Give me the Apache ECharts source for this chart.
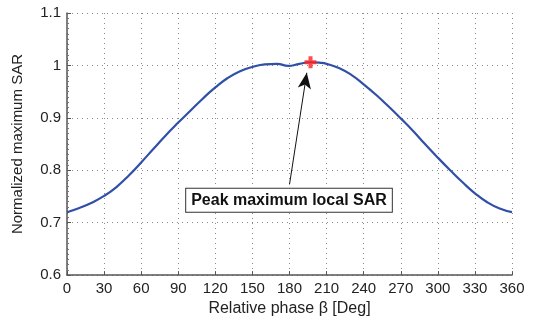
<!DOCTYPE html>
<html>
<head>
<meta charset="utf-8">
<script src="https://cdn.jsdelivr.net/npm/echarts@6/dist/echarts.min.js"></script>
<style>
  html, body { margin: 0; padding: 0; background: #fff; }
  #chart { width: 533px; height: 322px; }
</style>
</head>
<body>
<div id="chart"></div>
<script>
// relative phase (deg) and normalized max SAR
const phase = [0, 10, 20, 30, 40, 50, 60, 70, 80, 90, 100, 110, 120, 130, 140, 150, 160, 170, 179,
  188, 197, 205, 210, 220, 230, 240, 250, 260, 270, 280, 290, 300, 310, 320, 330, 340, 350, 360]
const sar = [0.720, 0.728, 0.738, 0.751, 0.768, 0.790, 0.815, 0.841, 0.867, 0.891, 0.914, 0.937, 0.958,
  0.976, 0.989, 0.997, 1.002, 1.003, 0.999, 1.003, 1.006, 1.005, 1.003, 0.995, 0.982, 0.964, 0.944, 0.922,
  0.899, 0.875, 0.849, 0.824, 0.800, 0.777, 0.756, 0.739, 0.727, 0.720]
const peakPoint = [197, 1.006]
const arrowFrom = [180, 0.773]
const arrowTo = [194, 0.986]
const boxCenter = [179.6, 0.743]
const boxText = 'Peak maximum local SAR'

const font = '"Liberation Sans", Arial, sans-serif'
const chart = echarts.init(document.getElementById('chart'))

const gridLine = { show: true, lineStyle: { color: '#8a8a8a', type: [1, 4], width: 1 } }

chart.setOption({
  animation: false,
  grid: { left: 67, right: 21, top: 13, bottom: 43, containLabel: false },
  xAxis: {
    type: 'value', min: 0, max: 360, interval: 30,
    name: 'Relative phase β [Deg]', nameLocation: 'middle', nameGap: 23,
    nameTextStyle: { fontFamily: font, fontSize: 16, color: '#222' },
    axisLine: { lineStyle: { color: '#555', width: 1.5 } },
    axisTick: { inside: true, length: 4, lineStyle: { color: '#555' } },
    axisLabel: { fontFamily: font, fontSize: 15, color: '#222', margin: 6 },
    splitLine: gridLine
  },
  yAxis: {
    type: 'value', min: 0.6, max: 1.1, interval: 0.1,
    name: 'Normalized maximum SAR', nameLocation: 'middle', nameGap: 42,
    nameTextStyle: { fontFamily: font, fontSize: 15, color: '#222' },
    axisLine: { show: true, lineStyle: { color: '#555', width: 1.5 } },
    axisTick: { inside: true, length: 4, lineStyle: { color: '#555' } },
    minorTick: { show: true, splitNumber: 10, length: 2, lineStyle: { color: '#777' } },
    axisLabel: { fontFamily: font, fontSize: 15, color: '#222', margin: 6 },
    splitLine: gridLine
  },
  series: [
    {
      type: 'line',
      data: phase.map((p, i) => [p, sar[i]]),
      smooth: 0.5,
      symbol: 'none',
      lineStyle: { color: '#3050a8', width: 2.2 },
      markLine: {
        silent: true,
        symbol: ['none', 'arrow'],
        symbolSize: [10, 16],
        lineStyle: { color: '#111', width: 1, type: 'solid' },
        label: { show: false },
        data: [[{ coord: arrowFrom }, { coord: arrowTo }]]
      },
      markPoint: {
        silent: true,
        symbol: 'rect',
        symbolSize: 0,
        data: [{ coord: boxCenter, value: boxText }],
        label: {
          show: true,
          formatter: boxText,
          fontFamily: font,
          fontSize: 16,
          fontWeight: 'bold',
          color: '#111',
          backgroundColor: '#fff',
          borderColor: '#333',
          borderWidth: 1,
          padding: [4, 5, 3, 5]
        }
      }
    },
    {
      type: 'scatter',
      data: [peakPoint],
      symbol: 'path://M-1,-3H1V-1H3V1H1V3H-1V1H-3V-1H-1Z',
      symbolSize: 12,
      itemStyle: { color: '#ff2020' },
      z: 5
    }
  ]
})
</script>
</body>
</html>
